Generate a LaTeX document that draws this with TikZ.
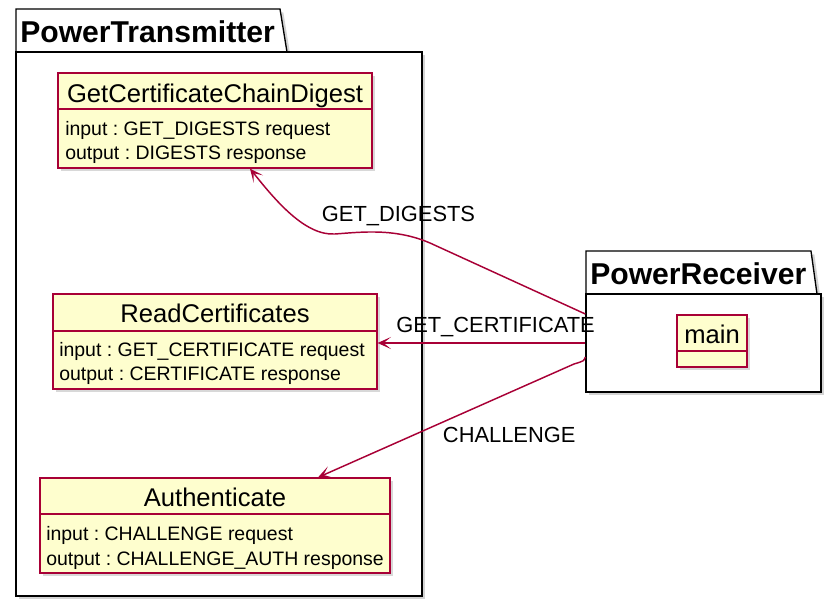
\documentclass[tikz,border=0pt]{standalone}
\usepackage{fontspec}
\setmainfont{Liberation Sans}
\frenchspacing
\usetikzlibrary{arrows.meta,calc,fit,shadows}
\definecolor{umlred}{HTML}{A80036}
\definecolor{umlfill}{HTML}{FEFECE}
\tikzset{
  pkg/.style={draw=black, line width=1pt, fill=white, drop shadow={opacity=0.35, shadow xshift=2.5pt, shadow yshift=-2.5pt}},
  pkgbody/.style={pkg, inner sep=0pt},
  classbox/.style={draw=umlred, line width=0.9pt, fill=umlfill, inner sep=0pt, drop shadow={opacity=0.3, shadow xshift=2.5pt, shadow yshift=-2.5pt}},
  divider/.style={draw=umlred, line width=0.9pt},
  pkgname/.style={font=\fontsize{22.6}{27}\selectfont\bfseries, anchor=base west, inner sep=0pt},
  classname/.style={font=\fontsize{19.2}{23}\selectfont, anchor=base, inner sep=0pt},
  attr/.style={font=\fontsize{14.6}{18}\selectfont, anchor=base west, inner sep=0pt},
  msg/.style={font=\fontsize{16.4}{20}\selectfont, anchor=base west, inner sep=0pt},
  link/.style={draw=umlred, line width=1.1pt, -{Stealth[length=10pt,width=9pt,inset=5.5pt]}}
}

\begin{document}
\begin{tikzpicture}[x=0.75pt, y=-0.75pt]
        \useasboundingbox (0,0) rectangle (836,603);
        % PowerTransmitter package
        \draw[pkg] (16,52) -- (16,9) -- (280,9) -- (287,52) -- cycle;
        \node[pkgbody, fit={(16,52) (422,596)}] (tx) {};
        \node[pkgname] (txname) at (20,42) {PowerTransmitter};
        % classes
        \node[classbox, fit={(58,73) (372,168)}] (digest) {};
        \draw[divider] (digest.west |- 0,109) -- (digest.east |- 0,109);
        \node[classname] (digestname) at (215,102) {GetCertificateChainDigest};
        \node[attr] (digestin) at (65,135) {input : GET\_DIGESTS request};
        \node[attr] (digestout) at (65,159) {output : DIGESTS response};

        \node[classbox, fit={(53,294) (377,389)}] (reader) {};
        \draw[divider] (reader.west |- 0,331) -- (reader.east |- 0,331);
        \node[classname] (readername) at (215,322) {ReadCertificates};
        \node[attr] (readerin) at (59,356) {input : GET\_CERTIFICATE request};
        \node[attr] (readerout) at (59,380.5) {output : CERTIFICATE response};

        \node[classbox, fit={(40,478) (390,573)}] (auth) {};
        \draw[divider] (auth.west |- 0,514) -- (auth.east |- 0,514);
        \node[classname] (authname) at (215,506.5) {Authenticate};
        \node[attr] (authin) at (46,540) {input : CHALLENGE request};
        \node[attr] (authout) at (46,565) {output : CHALLENGE\_AUTH response};

        % PowerReceiver package
        \draw[pkg] (586,294) -- (586,251) -- (811,251) -- (817,294) -- cycle;
        \node[pkgbody, fit={(586,294) (821,392)}] (recv) {};
        \node[pkgname] (recvname) at (590,284.3) {PowerReceiver};
        \node[classbox, fit={(677,315) (747,367)}] (main) {};
        \draw[divider] (main.west |- 0,351) -- (main.east |- 0,351);
        \node[classname] (mainname) at (712,343.3) {main};

        % messages
        \draw[link] ($(recv.west)+(0,-29)$) -- (430,243) .. controls (395,228) and (362,232) .. (335,234) .. controls (305,236) and (275,200) .. ($(digest.south)+(35,0)$);
        \draw[link] (recv.west) -- (recv.west -| reader.east);
        \draw[link] ($(recv.west)+(0,14)$) .. controls (584,361) .. (574,364) -- ($(auth.north)+(103,0)$);
        \node[msg] (msgdigest) at (321.7,221.7) {GET\_DIGESTS};
        \node[msg] (msgcert) at (396,332.3) {GET\_CERTIFICATE};
        \node[msg] (msgchal) at (442.7,442.3) {CHALLENGE};
      \end{tikzpicture}
\end{document}
